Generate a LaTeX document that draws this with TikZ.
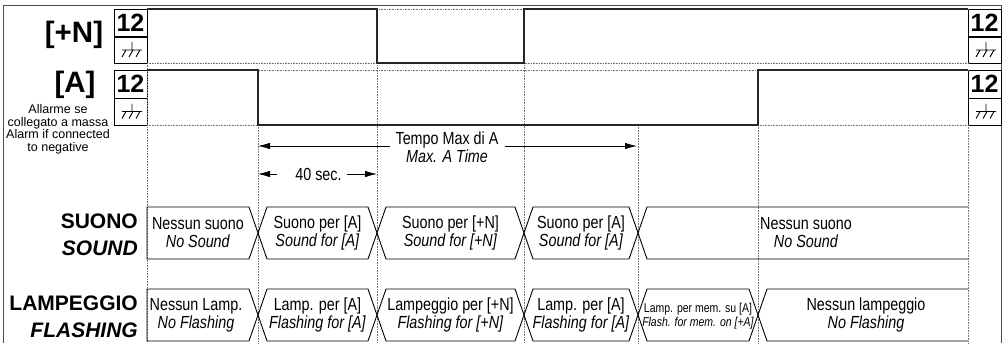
\documentclass[tikz,border=0pt]{standalone}
\usepackage{fontspec}
\setmainfont{Liberation Sans}
\newfontfamily\narrowfont[FakeStretch=0.82]{Liberation Sans}
\usetikzlibrary{arrows.meta,positioning}

\begin{document}
\begin{tikzpicture}[x=1pt,y=-1pt,>={Latex[length=12pt,width=6.5pt]},
  sig/.style={line width=2.2pt,draw=black!85},
  guide/.style={densely dotted,draw=black!55,line width=0.6pt},
  hexline/.style={line width=0.9pt},
  dim/.style={line width=0.8pt},
  lvlbox/.style={draw,line width=1pt,minimum width=33pt,minimum height=28pt,inner sep=0pt,font=\fontsize{25}{25}\selectfont\bfseries},
  gndbox/.style={lvlbox,minimum height=27pt},
  chan/.style={font=\fontsize{29.5}{29.5}\selectfont\bfseries,inner sep=0pt},
  rowlbl/.style={font=\fontsize{21}{21}\selectfont\bfseries,inner sep=0pt,anchor=base east},
  txt/.style={font=\narrowfont\fontsize{17.5}{18}\selectfont,align=center,inner sep=0pt},
  memtxt/.style={font=\narrowfont\fontsize{12.8}{13.5}\selectfont,align=center,inner sep=0pt},
  gnd/.pic={\draw[line width=0.9pt] (0,-8) -- (0,0) (-10,0) -- (10,0) (-6,0) -- (-10,7) (1,0) -- (-3,7) (8,0) -- (4,7);}
]
  \useasboundingbox (0,0) rectangle (1008,343);
  \draw[black!70,line width=1pt] (3,343) -- (3,5) -- (1001,5) -- (1001,343);

  % level boxes
  \node[lvlbox] (n12) at (130.5,23) {12};
  \node[gndbox] (ngnd) at (130.5,50) {};
  \node[lvlbox] (a12) at (130.5,84) {12};
  \node[gndbox] (agnd) at (130.5,111.5) {};
  \node[lvlbox] (n12r) at (984.5,23) {12};
  \node[gndbox] (ngndr) at (984.5,50) {};
  \node[lvlbox] (a12r) at (984.5,84) {12};
  \node[gndbox] (agndr) at (984.5,111.5) {};
  \pic at (132,50) {gnd};
  \pic at (132,111.5) {gnd};
  \pic at (986,50) {gnd};
  \pic at (986,111.5) {gnd};

  % guides and signals
  \foreach \y in {9,63,70,125} \draw[guide] (147,\y) -- (968,\y);
  \foreach \x/\y in {147/63,258/125,377/9,524/9,638/125,758/125,968/125} \draw[guide] (\x,\y) -- (\x,343);
  \draw[sig] (147,9) -| (377,63) -| (524,9) -- (968,9);
  \draw[sig] (147,70) -| (258,125) -| (758,70) -- (968,70);

  \node[chan] (plusN) at (74,35) {[+N]};
  \node[chan] (chA) at (75,84.5) {[A]};
  \node[font=\fontsize{12.5}{12.5}\selectfont,align=center,inner sep=0pt] (note) at (58,129.5) {Allarme se\\collegato a massa\\Alarm if connected\\to negative};

  % times
  \coordinate (tA) at (258,146);
  \coordinate (tE) at (637,146);
  \node[txt] (tmax) at (447,147) {Tempo Max di A\\\textit{Max. A Time}};
  \draw[dim,<-] (tA) -- ([xshift=-5pt]tmax.west |- tA);
  \draw[dim,->] ([xshift=6pt]tmax.east |- tE) -- (tE);
  \coordinate (sA) at (258,174);
  \coordinate (sE) at (377,174);
  \node[txt] (forty) at (318.5,174) {40 sec.};
  \draw[dim,<-] (sA) -- ([xshift=-18pt]forty.west |- sA);
  \draw[dim,->] ([xshift=5pt]forty.east |- sE) -- (sE);

  \node[rowlbl] (suono) at (138,228) {SUONO};
  \node[rowlbl] (sound) at (138,255) {\itshape SOUND};
  \node[rowlbl] (lampeggio) at (138,310) {LAMPEGGIO};
  \node[rowlbl] (flashing) at (138,337) {\itshape FLASHING};

  % sound row
  \draw[hexline] (147,207) -- (249,207) -- (258,233) -- (249,259) -- (147,259) -- cycle;
  \foreach \a/\b in {258/377,377/524,524/638}
    \draw[hexline] (\a,233) -- (\a+9,207) -- (\b-9,207) -- (\b,233) -- (\b-9,259) -- (\a+9,259) -- cycle;
  \draw[hexline] (968,207) -- (647,207) -- (638,233) -- (647,259) -- (968,259);
  \node[txt] (s0) at (198,233) {Nessun suono\\\textit{No Sound}};
  \node[txt] (s1) at (317.5,233) {Suono per [A]\\\textit{Sound for [A]}};
  \node[txt] (s2) at (450.5,233) {Suono per [+N]\\\textit{Sound for [+N]}};
  \node[txt] (s3) at (581,233) {Suono per [A]\\\textit{Sound for [A]}};
  \node[txt,anchor=west] (s4) at (760,233) {Nessun suono\\\textit{No Sound}};

  % flashing row
  \draw[hexline] (147,289) -- (249,289) -- (258,315) -- (249,341) -- (147,341) -- cycle;
  \foreach \a/\b in {258/377,377/524,524/638,638/758}
    \draw[hexline] (\a,315) -- (\a+9,289) -- (\b-9,289) -- (\b,315) -- (\b-9,341) -- (\a+9,341) -- cycle;
  \draw[hexline] (968,289) -- (767,289) -- (758,315) -- (767,341) -- (968,341);
  \node[txt] (f0) at (196,315) {Nessun Lamp.\\\textit{No Flashing}};
  \node[txt] (f1) at (317.5,315) {Lamp. per [A]\\\textit{Flashing for [A]}};
  \node[txt] (f2) at (450.5,315) {Lampeggio per [+N]\\\textit{Flashing for [+N]}};
  \node[txt] (f3) at (581,315) {Lamp. per [A]\\\textit{Flashing for [A]}};
  \node[memtxt] (f4) at (698,316) {Lamp. per mem. su [A]\\\textit{Flash. for mem. on [+A]}};
  \node[txt] (f5) at (866,315) {Nessun lampeggio\\\textit{No Flashing}};
\end{tikzpicture}
\end{document}
